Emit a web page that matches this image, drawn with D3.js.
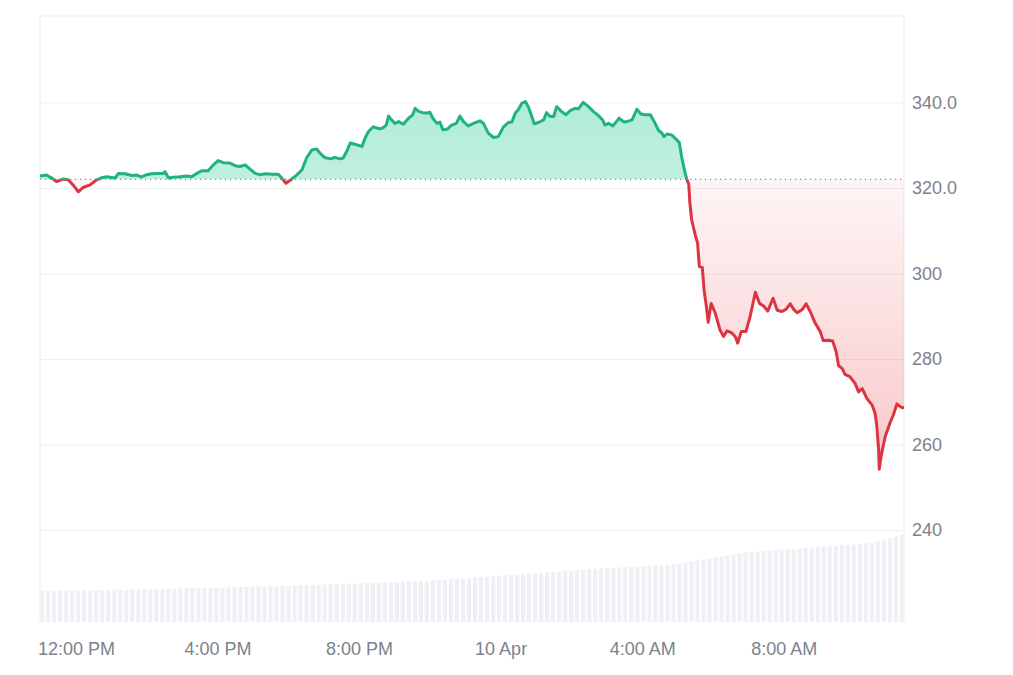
<!DOCTYPE html>
<html>
<head>
<meta charset="utf-8">
<script src="https://cdn.jsdelivr.net/npm/d3@7"></script>
<style>
  html, body { margin: 0; padding: 0; background: #ffffff; }
  svg { display: block; }
  text { font-family: "Liberation Sans", Arial, sans-serif; }
</style>
</head>
<body>
<svg id="chart" width="1013" height="675"></svg>
<script>
// ---- data ----
const seriesStart = new Date(2025, 3, 9, 10, 59);
const seriesEndMinutes = 1465;
const baselinePrice = 322.0;
const priceMinutes = [0,11,20,28,40,48,56,65,73,85,96,105,113,127,133,144,156,164,172,181,189,201,209,212,218,226,237,249,257,266,274,285,294,302,311,322,331,339,348,356,365,373,382,393,404,410,417,427,435,444,452,461,469,475,483,492,500,509,514,520,526,534,546,551,557,565,571,577,582,587,591,596,602,608,616,625,632,636,642,649,656,661,667,673,678,683,690,698,706,712,718,726,735,746,752,760,769,777,786,794,800,806,811,817,823,828,834,838,845,854,859,865,871,876,884,892,899,907,913,921,930,938,947,954,958,964,971,975,982,989,995,1004,1012,1019,1026,1035,1043,1049,1054,1058,1063,1071,1077,1084,1088,1094,1097,1100,1102,1105,1111,1115,1118,1123,1126,1130,1133,1138,1145,1153,1159,1165,1173,1179,1183,1189,1197,1204,1213,1220,1227,1234,1243,1250,1258,1265,1272,1278,1284,1292,1299,1306,1314,1323,1328,1337,1344,1350,1354,1360,1365,1373,1382,1388,1394,1402,1411,1416,1419,1422,1423,1426,1433,1442,1447,1453,1459,1465];
const prices = [322.8,323.0,322.3,321.5,322.1,321.9,320.7,319.1,320.1,320.7,321.9,322.4,322.6,322.3,323.4,323.3,322.9,323.0,322.6,323.1,323.3,323.4,323.4,323.8,322.3,322.5,322.6,322.8,322.6,323.4,324.0,324.0,325.4,326.4,325.9,325.8,325.2,325.0,325.4,324.4,323.4,323.1,323.3,323.2,323.2,322.3,321.1,322.1,323.0,324.2,327.0,328.9,329.1,328.1,327.1,326.8,327.1,326.8,327.0,328.5,330.5,330.2,329.7,331.6,333.2,334.3,334.0,333.8,334.1,334.7,336.8,335.9,335.1,335.5,334.9,336.3,337.1,338.6,337.9,337.6,337.5,337.7,336.1,335.1,335.4,333.6,333.7,334.7,335.1,336.8,335.5,334.5,335.1,335.7,335.1,332.8,331.8,332.0,334.3,335.3,335.4,337.5,338.3,339.8,340.2,339.0,336.7,335.0,335.3,335.9,337.6,336.7,336.7,339.0,337.9,337.1,338.1,338.6,338.5,340.0,339.0,337.9,336.9,335.9,334.7,335.1,334.5,335.1,336.3,335.5,335.5,335.9,338.4,337.3,337.1,337.1,335.1,333.4,332.9,332.0,332.6,332.4,331.6,330.6,327.3,323.4,321.9,320.9,316.4,312.5,309.0,307.1,301.6,301.4,296.1,292.2,288.6,293.0,290.7,286.8,285.3,286.6,286.1,285.2,283.7,286.4,286.4,289.9,295.6,293.0,292.4,291.2,294.2,291.4,291.1,291.6,292.9,291.6,290.8,291.5,292.9,291.1,288.5,286.4,284.3,284.4,284.2,281.7,278.4,277.8,276.4,275.9,274.3,272.3,273.1,270.8,269.2,267.3,264.2,258.7,254.2,257.1,261.8,265.3,266.9,269.5,268.8,268.5];
const volumes = [31.3,31.0,31.5,31.2,31.4,31.6,31.3,31.8,31.5,31.7,32.0,31.8,32.1,32.3,32.0,32.4,32.6,32.5,32.9,33.0,32.8,33.2,33.5,33.6,
  33.8,33.7,34.0,34.2,34.1,34.4,34.6,34.5,34.9,35.1,35.0,35.3,35.5,35.4,35.8,36.0,36.2,36.1,36.5,36.9,
  37.0,37.2,37.1,37.5,37.8,37.7,38.0,38.3,38.2,38.6,38.9,39.0,39.3,39.6,39.5,39.9,40.2,40.4,40.7,40.9,41.3,41.6,42.0,42.4,42.8,
  43.0,43.5,43.9,44.4,44.8,45.3,45.9,46.4,
  46.6,47.0,47.5,47.9,48.3,48.8,49.2,49.6,50.1,50.5,50.9,51.4,51.8,52.3,52.7,53.2,53.6,
  53.8,54.1,54.5,54.8,55.1,55.4,55.8,56.1,56.4,56.7,57.0,
  57.6,58.5,59.4,60.4,61.5,62.6,
  63.5,64.6,65.5,66.6,67.5,68.5,69.4,70.2,
  70.5,70.9,71.4,71.8,72.2,72.7,73.1,73.6,
  74.0,74.4,74.9,75.3,75.8,76.2,76.7,77.1,77.6,78.1,78.6,
  79.5,81.0,82.4,83.8,85.2,87.0];
const yTickValues = [340, 320, 300, 280, 260, 240];
const yTickLabels = ["340.0", "320.0", "300", "280", "260", "240"];
const xTickTimes = [new Date(2025,3,9,12,0), new Date(2025,3,9,16,0), new Date(2025,3,9,20,0), new Date(2025,3,10,0,0), new Date(2025,3,10,4,0), new Date(2025,3,10,8,0)];
const xTickLabels = ["12:00 PM", "4:00 PM", "8:00 PM", "10 Apr", "4:00 AM", "8:00 AM"];

// ---- layout ----
const L = 40, R = 904, T = 16, B = 622;
const GREEN = "#1fb37d", RED = "#dc3541";
const svg = d3.select("#chart");

const addMin = m => new Date(seriesStart.getTime() + m * 60000);
const data = priceMinutes.map((m, i) => ({ t: addMin(m), v: prices[i] }));

const x = d3.scaleTime().domain([seriesStart, addMin(seriesEndMinutes)]).range([L, R]);
const y = d3.scaleLinear().domain([218.5, 360.2]).range([B, T]);
const xb = d3.scaleBand().domain(d3.range(volumes.length)).range([L, R]).paddingInner(0.3);
const yv = d3.scaleLinear().domain([0, 100]).range([B, B - 100]);

const defs = svg.append("defs");
const gG = defs.append("linearGradient").attr("id", "gGreen").attr("gradientUnits", "userSpaceOnUse")
  .attr("x1", 0).attr("x2", 0).attr("y1", y(341)).attr("y2", y(baselinePrice));
gG.append("stop").attr("offset", 0).attr("stop-color", "#16c784").attr("stop-opacity", 0.34);
gG.append("stop").attr("offset", 1).attr("stop-color", "#16c784").attr("stop-opacity", 0.27);
const gR = defs.append("linearGradient").attr("id", "gRed").attr("gradientUnits", "userSpaceOnUse")
  .attr("x1", 0).attr("x2", 0).attr("y1", y(baselinePrice)).attr("y2", y(254));
gR.append("stop").attr("offset", 0).attr("stop-color", "#ea3943").attr("stop-opacity", 0.05);
gR.append("stop").attr("offset", 1).attr("stop-color", "#ea3943").attr("stop-opacity", 0.28);

defs.append("clipPath").attr("id", "clipAbove").append("rect")
  .attr("x", L).attr("y", T).attr("width", R - L).attr("height", y(baselinePrice) - T);
defs.append("clipPath").attr("id", "clipBelow").append("rect")
  .attr("x", L).attr("y", y(baselinePrice)).attr("width", R - L).attr("height", B - y(baselinePrice));

// frame
svg.append("path")
  .attr("d", `M${L},${B}V${T}H${R}V${B}`)
  .attr("fill", "none").attr("stroke", "#ececec").attr("stroke-width", 1);

// grid + y axis labels
const yAxis = d3.axisRight(y).tickValues(yTickValues)
  .tickFormat((d, i) => yTickLabels[i]).tickSize(-(R - L)).tickPadding(8);
const gy = svg.append("g").attr("transform", `translate(${R},0)`).call(yAxis);
gy.select(".domain").remove();
gy.selectAll(".tick line").attr("stroke", "#eeeff1").attr("stroke-width", 1);
gy.selectAll(".tick text").attr("fill", "#7d828c").attr("font-size", 18)
  .attr("font-family", "Liberation Sans, Arial, sans-serif");

// volume bars
svg.append("g").selectAll("rect").data(volumes).join("rect")
  .attr("x", (d, i) => xb(i)).attr("width", xb.bandwidth())
  .attr("y", d => yv(d)).attr("height", d => B - yv(d))
  .attr("fill", "#eef0f5");

// areas
const area = d3.area().x(d => x(d.t)).y0(y(baselinePrice)).y1(d => y(d.v));
const line = d3.line().x(d => x(d.t)).y(d => y(d.v));
svg.append("path").datum(data).attr("d", area).attr("fill", "url(#gGreen)").attr("clip-path", "url(#clipAbove)");
svg.append("path").datum(data).attr("d", area).attr("fill", "url(#gRed)").attr("clip-path", "url(#clipBelow)");

// baseline
svg.append("line").attr("x1", L).attr("x2", R)
  .attr("y1", y(baselinePrice)).attr("y2", y(baselinePrice))
  .attr("stroke", "#8a8f99").attr("stroke-width", 1.2).attr("stroke-dasharray", "1.2,3.8");

// lines
svg.append("path").datum(data).attr("d", line).attr("fill", "none")
  .attr("stroke", GREEN).attr("stroke-width", 3).attr("stroke-linejoin", "round")
  .attr("clip-path", "url(#clipAbove)");
svg.append("path").datum(data).attr("d", line).attr("fill", "none")
  .attr("stroke", RED).attr("stroke-width", 3).attr("stroke-linejoin", "round")
  .attr("clip-path", "url(#clipBelow)");

// x axis
const xAxis = d3.axisBottom(x).tickValues(xTickTimes)
  .tickFormat((d, i) => xTickLabels[i]).tickSize(0).tickPadding(20);
const gx = svg.append("g").attr("transform", `translate(0,${B})`).call(xAxis);
gx.select(".domain").remove();
gx.selectAll(".tick text").attr("fill", "#7d828c").attr("font-size", 18)
  .attr("font-family", "Liberation Sans, Arial, sans-serif");
</script>
</body>
</html>
